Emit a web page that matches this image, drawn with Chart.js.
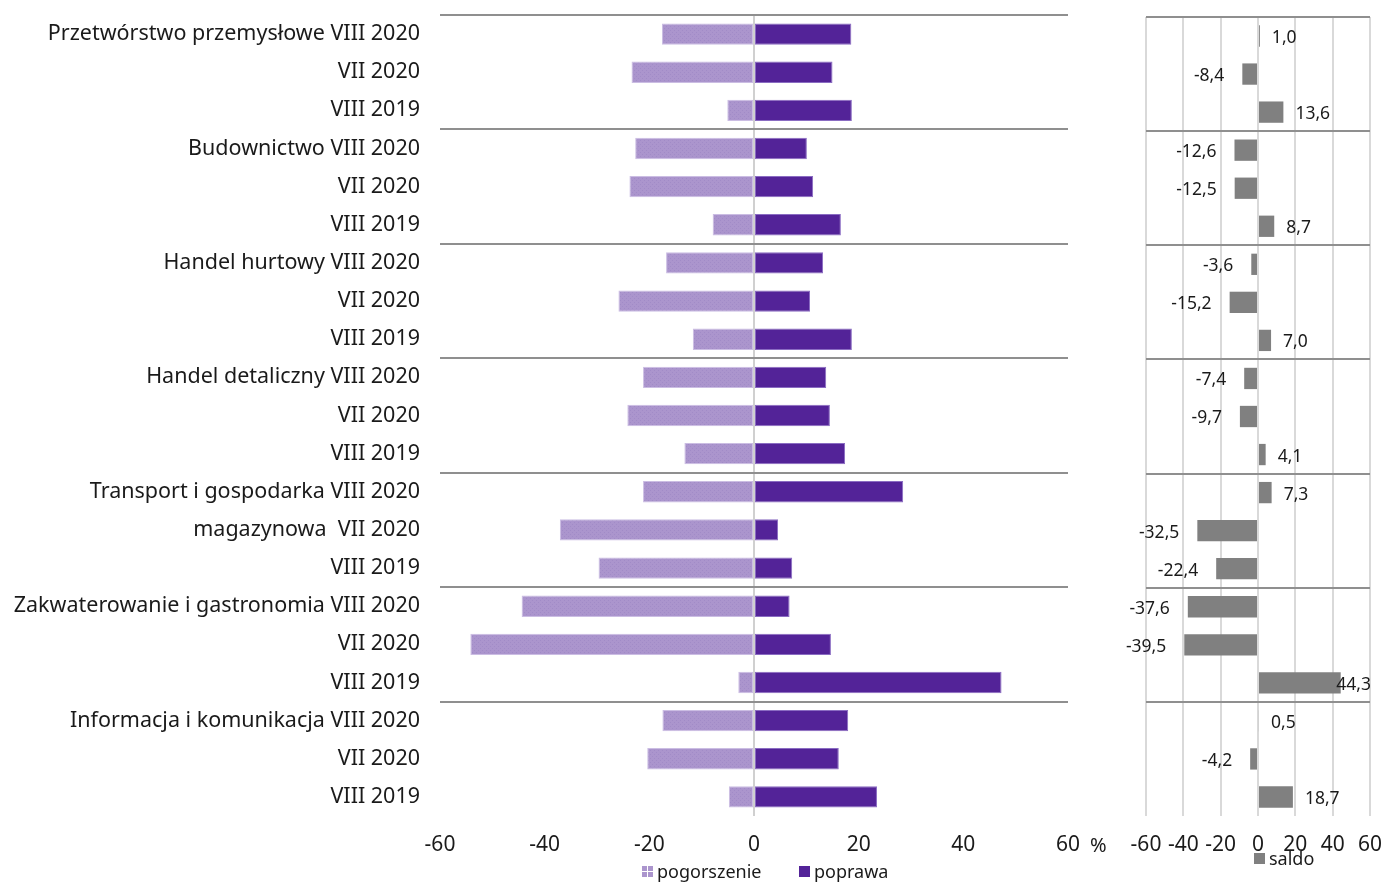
<!DOCTYPE html>
<html>
<head>
<meta charset="utf-8">
<script src="https://cdn.jsdelivr.net/npm/chart.js@4"></script>
<style>
  body { margin: 0; background: #fff; font-family: "Noto Sans", sans-serif; color: #1a1a1a; }
  #wrap { position: relative; width: 1384px; height: 882px; overflow: hidden; }
  #left { position: absolute; left: 0; top: 0; }
  #right { position: absolute; left: 1110px; top: 0; }
  .txt { position: absolute; font-size: 20px; line-height: 20px; }
  .leg { position: absolute; font-size: 18px; line-height: 20px; display: flex; align-items: center; }
  .sw { display: inline-block; width: 11px; height: 11px; margin-right: 4px; }
  .sw.hatch {
    background-color: #ab95cd;
    background-image: linear-gradient(#fff 0 0), linear-gradient(#fff 0 0);
    background-size: 11px 1px, 1px 11px;
    background-position: 0 5px, 5px 0;
    background-repeat: no-repeat;
  }
</style>
</head>
<body>
<div id="wrap">
  <canvas id="left" width="1110" height="882"></canvas>
  <canvas id="right" width="274" height="882"></canvas>
  <div class="txt" style="left:1090px;top:835px;">%</div>
  <div class="leg" style="left:642px;top:861px;"><span class="sw hatch"></span>pogorszenie</div>
  <div class="leg" style="left:799px;top:861px;"><span class="sw" style="background:#532398"></span>poprawa</div>
  <div class="leg" style="left:1254px;top:848px;"><span class="sw" style="background:#808080"></span>saldo</div>
</div>
<script>
// dane
const categories = [
  'Przetwórstwo przemysłowe VIII 2020', 'VII 2020', 'VIII 2019',
  'Budownictwo VIII 2020', 'VII 2020', 'VIII 2019',
  'Handel hurtowy VIII 2020', 'VII 2020', 'VIII 2019',
  'Handel detaliczny VIII 2020', 'VII 2020', 'VIII 2019',
  'Transport i gospodarka VIII 2020', 'magazynowa  VII 2020', 'VIII 2019',
  'Zakwaterowanie i gastronomia VIII 2020', 'VII 2020', 'VIII 2019',
  'Informacja i komunikacja VIII 2020', 'VII 2020', 'VIII 2019'
];
const pogorszenie = [-17.6, -23.4, -5.1, -22.7, -23.8, -7.9, -16.8, -25.9, -11.7, -21.2, -24.2, -13.3,
  -21.2, -37.1, -29.7, -44.4, -54.2, -3.0, -17.5, -20.4, -4.8];
const poprawa = [18.6, 15.0, 18.7, 10.1, 11.3, 16.6, 13.2, 10.7, 18.7, 13.8, 14.5, 17.4,
  28.5, 4.6, 7.3, 6.8, 14.7, 47.3, 18.0, 16.2, 23.5];
const saldo = [1.0, -8.4, 13.6, -12.6, -12.5, 8.7, -3.6, -15.2, 7.0, -7.4, -9.7, 4.1,
  7.3, -32.5, -22.4, -37.6, -39.5, 44.3, 0.5, -4.2, 18.7];
const xTicks = [-60, -40, -20, 0, 20, 40, 60];

const FONT = '"Noto Sans", sans-serif';
const TXT = '#1a1a1a';
const SEP = '#8f8f8f';
const NONE = 'rgba(0,0,0,0)';

// delikatny wzór dla "pogorszenie"
const leftCtx = document.getElementById('left').getContext('2d');
const tile = document.createElement('canvas');
tile.width = tile.height = 4;
const tg = tile.getContext('2d');
tg.fillStyle = '#ab95cd';
tg.fillRect(0, 0, 4, 4);
tg.fillStyle = '#a18bc7';
tg.fillRect(0, 0, 1, 1);
tg.fillRect(2, 2, 1, 1);
const hatch = leftCtx.createPattern(tile, 'repeat');

const sepColor = c => (c.index % 3 === 0 ? SEP : NONE);
// bez dodatkowych marginesów od etykiet osi
const noPad = s => { s.paddingTop = 0; s.paddingBottom = 0; s.paddingLeft = 0; s.paddingRight = 0; };

new Chart(leftCtx, {
  type: 'bar',
  data: {
    labels: categories,
    datasets: [
      { label: 'pogorszenie', data: pogorszenie, backgroundColor: hatch, borderColor: '#cbbde3', borderWidth: 1, borderSkipped: false },
      { label: 'poprawa', data: poprawa, backgroundColor: '#532398', borderColor: '#8a6cc2', borderWidth: 1, borderSkipped: false }
    ]
  },
  options: {
    indexAxis: 'y',
    responsive: false,
    animation: false,
    layout: { padding: { top: 15, right: 42, bottom: 0, left: 0 } },
    datasets: { bar: { barPercentage: 0.56, categoryPercentage: 1 } },
    plugins: { legend: { display: false }, tooltip: { enabled: false } },
    scales: {
      x: {
        stacked: true, min: -60, max: 60, z: 1,
        afterBuildTicks: s => { s.ticks = xTicks.map(v => ({ value: v })); },
        afterFit: s => { s.height = 66; noPad(s); },
        grid: { color: c => (c.tick && c.tick.value === 0 ? '#d0d0d0' : NONE), lineWidth: 2, drawTicks: false },
        border: { display: false },
        ticks: { padding: 16, color: TXT, font: { family: FONT, size: 21 }, maxRotation: 0 }
      },
      y: {
        stacked: true,
        afterFit: s => { s.width = 440; noPad(s); },
        grid: { color: sepColor, lineWidth: 2, drawTicks: false },
        border: { display: false },
        ticks: { padding: 20, color: TXT, font: { family: FONT, size: 21.5 }, autoSkip: false }
      }
    }
  }
});

// etykiety salda
const saldoLabels = {
  id: 'saldoLabels',
  afterDatasetsDraw(chart) {
    const ctx = chart.ctx;
    const area = chart.chartArea;
    ctx.save();
    ctx.font = '17.5px ' + FONT;
    ctx.fillStyle = TXT;
    ctx.textBaseline = 'middle';
    ctx.textAlign = 'left';
    chart.getDatasetMeta(0).data.forEach((bar, i) => {
      const v = saldo[i];
      const txt = v.toFixed(1).replace('.', ',');
      const w = ctx.measureText(txt).width;
      const x = v >= 0 ? Math.min(bar.x + 12, area.right + 1 - w) : bar.x - 18 - w;
      ctx.fillText(txt, x, bar.y + 2);
    });
    ctx.restore();
  }
};

new Chart(document.getElementById('right').getContext('2d'), {
  type: 'bar',
  data: {
    labels: categories,
    datasets: [
      { label: 'saldo', data: saldo, backgroundColor: '#808080', borderWidth: 0 }
    ]
  },
  options: {
    indexAxis: 'y',
    responsive: false,
    animation: false,
    layout: { padding: { top: 17, right: 14, bottom: 0, left: 36 } },
    datasets: { bar: { barPercentage: 0.56, categoryPercentage: 1 } },
    plugins: { legend: { display: false }, tooltip: { enabled: false } },
    scales: {
      x: {
        min: -60, max: 60,
        afterBuildTicks: s => { s.ticks = xTicks.map(v => ({ value: v })); },
        afterFit: s => { s.height = 66; noPad(s); },
        grid: { color: '#d9d9d9', lineWidth: 2, drawTicks: false },
        border: { display: false },
        ticks: { padding: 16, color: TXT, font: { family: FONT, size: 21 }, maxRotation: 0, autoSkip: false }
      },
      y: {
        afterFit: s => { s.width = 0; noPad(s); },
        grid: { color: sepColor, lineWidth: 2, drawTicks: false },
        border: { display: false },
        ticks: { display: false }
      }
    }
  },
  plugins: [saldoLabels]
});
</script>
</body>
</html>
